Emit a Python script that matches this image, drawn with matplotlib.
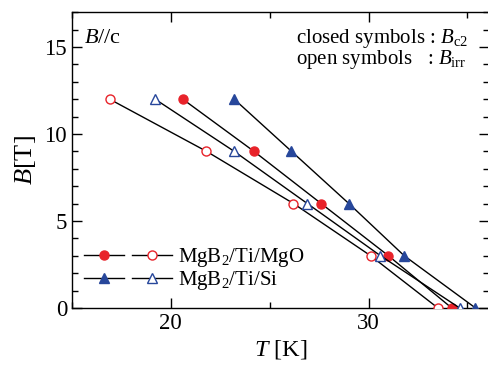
import matplotlib
matplotlib.use("Agg")
import matplotlib.pyplot as plt
from matplotlib.legend_handler import HandlerTuple
from matplotlib.ticker import MultipleLocator

plt.rcParams['font.family'] = ['Liberation Serif', 'DejaVu Serif']
plt.rcParams['mathtext.fontset'] = 'custom'
plt.rcParams['mathtext.rm'] = 'Liberation Serif'
plt.rcParams['mathtext.it'] = 'Liberation Serif:italic'

# field values (T) shared by all series
B = [12, 9, 6, 3, 0]
# temperatures (K)
T_mgo_c2 = [20.6, 24.2, 27.6, 31.0, 34.2]
T_mgo_irr = [16.9, 21.8, 26.2, 30.1, 33.5]
T_si_c2 = [23.2, 26.1, 29.0, 31.8, 35.4]
T_si_irr = [19.2, 23.2, 26.9, 30.6, 34.6]

red = '#e8232a'
blue = '#27479b'

fig = plt.figure(figsize=(4.88, 3.67), dpi=100)
# right spine sits just past the image edge, as in the original
ax = fig.add_axes([0.1475, 0.161, 0.855, 0.806])

lw = 1.0
ms = 6.5
h1, = ax.plot(T_mgo_c2, B, '-', color='k', lw=lw, marker='o', ms=ms,
              mfc=red, mec=red, zorder=3)
h2, = ax.plot(T_mgo_irr, B, '-', color='k', lw=lw, marker='o', ms=ms,
              mfc='white', mec=red, zorder=3)
h3, = ax.plot(T_si_c2, B, '-', color='k', lw=lw, marker='^', ms=ms + 1,
              mfc=blue, mec=blue, zorder=3)
h4, = ax.plot(T_si_irr, B, '-', color='k', lw=lw, marker='^', ms=ms + 1,
              mfc='white', mec=blue, zorder=3)

ax.set_xlim(15, 36.1)
ax.set_ylim(0, 17)
ax.xaxis.set_major_locator(MultipleLocator(10))
ax.xaxis.set_minor_locator(MultipleLocator(5))
ax.yaxis.set_major_locator(MultipleLocator(5))
ax.yaxis.set_minor_locator(MultipleLocator(1))
ax.tick_params(which='both', direction='in', top=True, right=True,
               labelsize=16.5, width=1)
ax.tick_params(which='major', length=7)
ax.tick_params(which='minor', length=4)
for s in ax.spines.values():
    s.set_linewidth(1)

ax.set_xlabel('$T$ [K]', fontsize=17.5, labelpad=3)
ax.set_ylabel('$B$[T]', fontsize=19, labelpad=5)

ax.text(0.03, 0.912, '$B$//c', transform=ax.transAxes, fontsize=16,
        va='center', ha='left')
ax.text(0.537, 0.912, 'closed symbols : $B_{\\rm c2}$', transform=ax.transAxes,
        fontsize=15, va='center', ha='left')
ax.text(0.537, 0.841, 'open symbols   : $B_{\\rm irr}$', transform=ax.transAxes,
        fontsize=15, va='center', ha='left')

ax.legend([(h1, h2), (h3, h4)], ['MgB$_2$/Ti/MgO', 'MgB$_2$/Ti/Si'],
          handler_map={tuple: HandlerTuple(ndivide=None, pad=0.4)},
          loc='lower left', bbox_to_anchor=(0.0, 0.012), frameon=False,
          fontsize=15, handlelength=4.2, handletextpad=0.3,
          labelspacing=0.0, borderaxespad=0.2)

fig.savefig('out.png', dpi=100)
